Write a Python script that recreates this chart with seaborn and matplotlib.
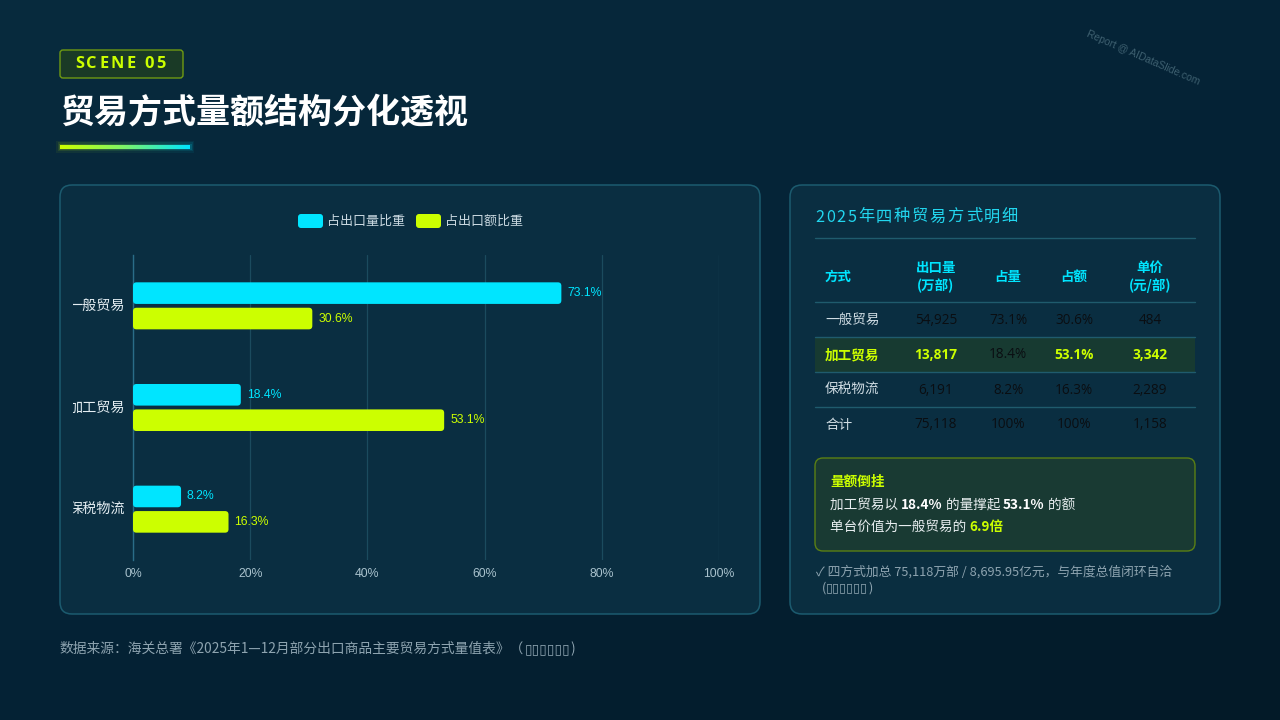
import numpy as np
import pandas as pd
import seaborn as sns
import matplotlib.pyplot as plt
from matplotlib.patches import FancyBboxPatch
from matplotlib.colors import LinearSegmentedColormap
from matplotlib.transforms import Bbox

# ---- data ----
modes = ['一般贸易', '加工贸易', '保税物流']
vol_share = [73.1, 18.4, 8.2]
val_share = [30.6, 53.1, 16.3]
series_names = ['占出口量比重', '占出口额比重']
x_ticks = [0, 20, 40, 60, 80, 100]

tbl_modes = ['一般贸易', '加工贸易', '保税物流', '合计']
tbl_volume = ['54,925', '13,817', '6,191', '75,118']
tbl_vol_pct = ['73.1%', '18.4%', '8.2%', '100%']
tbl_val_pct = ['30.6%', '53.1%', '16.3%', '100%']
tbl_price = ['484', '3,342', '2,289', '1,158']
tbl_headers = [['方式'], ['出口量', '(万部)'], ['占量'], ['占额'], ['单价', '(元/部)']]
highlight_row = 1

CYAN = '#00e5ff'
LIME = '#ccff00'
CJK = ['Noto Sans CJK SC', 'DejaVu Sans']
LINE = '#1f5b6d'
MUTED = '#8ea4b0'
TOFU = '▯' * 6

sns.set_theme(style='white')
plt.rcParams['font.family'] = CJK

fig = plt.figure(figsize=(12.8, 7.2), dpi=100)

# fond + overlay en pixels
bg = fig.add_axes([0, 0, 1, 1], zorder=0)
bg.set_xlim(0, 1280)
bg.set_ylim(720, 0)
bg.axis('off')

yy, xx = np.mgrid[0:1:72j, 0:1:128j]
grad = 0.55 * yy + 0.45 * xx
bg_cmap = LinearSegmentedColormap.from_list('bg', ['#082b3e', '#052336', '#031a28'])
bg.imshow(grad, extent=[0, 1280, 720, 0], aspect='auto', cmap=bg_cmap, zorder=0)

renderer = fig.canvas.get_renderer()


def put(x, y, s, spacing=0.0, **kw):
    # écrit un texte morceau par morceau, renvoie la position x de fin
    for ch in (s if spacing else [s]):
        t = bg.text(x, y, ch, va='center', ha='left', **kw)
        x += t.get_window_extent(renderer).width + spacing
    return x


def rich(x, y, parts, size):
    for txt, color, weight in parts:
        x = put(x, y, txt, color=color, fontsize=size, fontweight=weight, zorder=5)


# ---- en-tête ----
bg.add_patch(FancyBboxPatch((60, 50), 123, 28, boxstyle='round,pad=0,rounding_size=3',
                            fc='#1a3a26', ec='#6f9a12', lw=1, zorder=3))
put(75, 64.5, 'SCENE 05', spacing=2.3, color=LIME, fontsize=11.8, fontweight='bold',
    family='Open Sans', zorder=4)
bg.text(60, 113, '贸易方式量额结构分化透视', color='white', fontsize=24.5,
        fontweight='bold', va='center', ha='left', zorder=4)
line_cmap = LinearSegmentedColormap.from_list('ul', [LIME, '#7cf56a', CYAN])
for pad, a in [(4, 0.06), (2.5, 0.1), (1.2, 0.16)]:
    bg.imshow(np.linspace(0, 1, 64)[None, :], extent=[60 - pad, 190 + pad, 149 + pad, 145.5 - pad],
              aspect='auto', cmap=line_cmap, alpha=a, zorder=3)
bg.imshow(np.linspace(0, 1, 64)[None, :], extent=[60, 190, 149, 145.5], aspect='auto',
          cmap=line_cmap, zorder=4)
bg.text(1143, 58, 'Report @ AIDataSlide.com', rotation=-23.5, color='#3e6070', fontsize=7.4,
        ha='center', va='center', family='Liberation Sans', zorder=2)

# ---- panneaux ----
for (px, py, pw, ph) in [(60, 185, 700, 429), (790, 185, 430, 429)]:
    bg.add_patch(FancyBboxPatch((px, py), pw, ph, boxstyle='round,pad=0,rounding_size=12',
                                fc='#0b2f42', ec='#1d5e72', lw=1.1, alpha=0.95, zorder=1))

# ---- légende ----
lx = 298
for name, col in zip(series_names, [CYAN, LIME]):
    bg.add_patch(FancyBboxPatch((lx, 214), 25, 14, boxstyle='round,pad=0,rounding_size=3',
                                fc=col, ec='none', zorder=4))
    lx = put(lx + 29, 221, name, color='#c9d8e0', fontsize=9.4, zorder=4) + 11

# ---- graphique ----
df = pd.DataFrame({
    'mode': modes * 2,
    'series': [series_names[0]] * 3 + [series_names[1]] * 3,
    'value': vol_share + val_share,
})

ax = fig.add_axes([133 / 1280, 1 - 560 / 720, 586 / 1280, 305 / 720], zorder=2)
ax.patch.set_alpha(0)
sns.barplot(data=df, y='mode', x='value', hue='series', palette=[CYAN, LIME], orient='h',
            width=0.5, gap=0.15, saturation=1, legend=False, ax=ax)
ax.set_xlim(0, 100)
ax.set_ylim(2.5, -0.5)

# coins arrondis
px_per_x = 586 / 100
px_per_y = 305 / 3
for p in list(ax.patches):
    x0, y0, w, h = p.get_x(), p.get_y(), p.get_width(), p.get_height()
    fc = p.get_facecolor()
    p.remove()
    ax.add_patch(FancyBboxPatch((x0, y0), w, h,
                                boxstyle=f'round,pad=0,rounding_size={3.5 / px_per_x}',
                                mutation_aspect=px_per_x / px_per_y,
                                fc=fc, ec='none', zorder=3))
    ax.text(x0 + w + 1.0, y0 + h / 2, f'{w:.1f}%', color=fc, fontsize=8.8,
            family='Liberation Sans', va='center', ha='left', zorder=4)

ax.set_xticks(x_ticks)
ax.set_xticklabels([f'{v}%' for v in x_ticks], family='Liberation Sans')
ax.xaxis.grid(True, color='#1b4b5e', lw=0.9)
ax.set_axisbelow(True)
ax.set_xlabel('')
ax.set_ylabel('')
for s in ['top', 'right', 'bottom']:
    ax.spines[s].set_visible(False)
ax.spines['left'].set_color('#2a6d88')
ax.spines['left'].set_linewidth(1)
ax.tick_params(axis='x', length=0, pad=6, labelsize=8.8, labelcolor='#a9c2cd')
ax.tick_params(axis='y', which='major', length=0, labelleft=False)
ax.set_yticks([-0.5, 0.5, 1.5, 2.5], minor=True)
ax.tick_params(axis='y', which='minor', length=4, width=1, color='#2a6d88')

# étiquettes de catégorie, rognées par le bord du panneau comme dans l'original
clip = Bbox.from_extents(72.5, 0, 1280, 720)
for i, m in enumerate(ax.get_yticks()):
    yd = 720 - ax.transData.transform((0, m))[1]
    t = bg.text(125, yd, modes[i], color='#e4edf2', fontsize=10.2, ha='right', va='center',
                zorder=4)
    t.set_clip_on(True)
    t.set_clip_box(clip)

# ---- tableau ----
put(815, 217, '2025年四种贸易方式明细', spacing=1.7, color='#22d6ee', fontsize=11.7, zorder=4)
bg.plot([815, 1195], [237.5, 237.5], color=LINE, lw=1, zorder=3)

col_x = [825, 936, 1008, 1074, 1150]
for i, hdr in enumerate(tbl_headers):
    ys = [277] if len(hdr) == 1 else [268, 286]
    for yv, txt in zip(ys, hdr):
        bg.text(col_x[i], yv, txt, color=CYAN, fontsize=9.7, fontweight='bold',
                ha='left' if i == 0 else 'center', va='center', zorder=4)

row_y = [320, 355, 390, 425]
for yl in [302, 337, 372, 407]:
    bg.plot([815, 1195], [yl, yl], color=LINE, lw=1, zorder=3)
bg.add_patch(FancyBboxPatch((815, 337.5), 380, 34.5, boxstyle='square,pad=0',
                            fc='#173a31', ec='none', zorder=2))

for r, yv in enumerate(row_y):
    hl = r == highlight_row
    bg.text(825, yv, tbl_modes[r], color=LIME if hl else '#cfdce3', fontsize=9.8,
            fontweight='bold' if hl else 'normal', va='center', ha='left', zorder=4)
    cells = [tbl_volume[r], tbl_vol_pct[r], tbl_val_pct[r], tbl_price[r]]
    bold_cells = [True, False, True, True]
    for c, txt in enumerate(cells):
        strong = hl and bold_cells[c]
        bg.text(col_x[c + 1], yv, txt, color=LIME if strong else '#0a0e12', fontsize=9.8,
                fontweight='bold' if strong else 'normal', va='center', ha='center',
                family=['Open Sans', 'DejaVu Sans'], zorder=4)

# ---- encadré ----
bg.add_patch(FancyBboxPatch((815, 458), 380, 93, boxstyle='round,pad=0,rounding_size=8',
                            fc='#193a33', ec='#5a7f14', lw=1, zorder=2))
bg.text(830, 482, '量额倒挂', color=LIME, fontsize=9.8, fontweight='bold', va='center',
        ha='left', zorder=4)
rich(830, 505, [('加工贸易以 ', '#e8eef0', 'normal'), ('18.4%', 'white', 'bold'),
                (' 的量撑起 ', '#e8eef0', 'normal'), ('53.1%', 'white', 'bold'),
                (' 的额', '#e8eef0', 'normal')], 9.8)
rich(830, 527, [('单台价值为一般贸易的 ', '#e8eef0', 'normal'), ('6.9倍', LIME, 'bold')], 9.8)

bg.text(816, 572, '✓ 四方式加总 75,118万部 / 8,695.95亿元，与年度总值闭环自洽',
        color=MUTED, fontsize=9.2, va='center', ha='left', zorder=4)
fx = put(822, 588, '(', color=MUTED, fontsize=9.2, zorder=4)
fx = put(fx, 588, TOFU, color=MUTED, fontsize=9.2, family='DejaVu Sans', zorder=4)
put(fx, 588, ')', color=MUTED, fontsize=9.2, zorder=4)

# ---- source ----
sx = put(60, 649, '数据来源：海关总署《2025年1—12月部分出口商品主要贸易方式量值表》（',
         color=MUTED, fontsize=9.9, zorder=4)
sx = put(sx, 649, TOFU, color=MUTED, fontsize=9.9, family='DejaVu Sans', zorder=4)
put(sx, 649, ')', color=MUTED, fontsize=9.9, zorder=4)

fig.savefig('out.png', dpi=100)
